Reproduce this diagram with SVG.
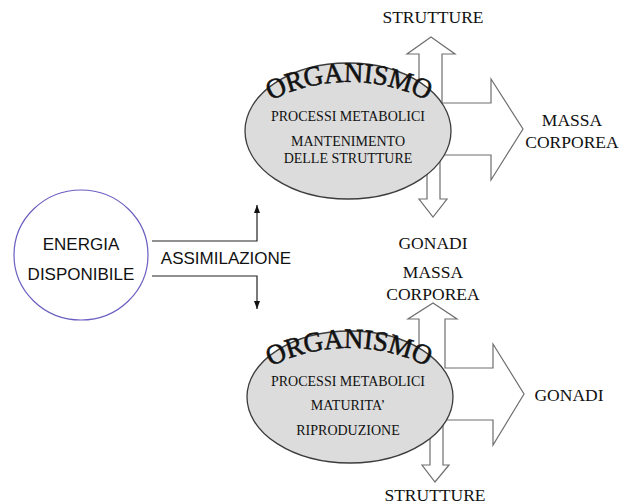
<svg xmlns="http://www.w3.org/2000/svg" width="620" height="504" viewBox="0 0 620 504">
<style>
  .bg{fill:#ffffff}
  .arrow{fill:#ffffff;stroke:#6e6e6e;stroke-width:1.2;stroke-linejoin:miter}
  .org{fill:#dcdcdc;stroke:#3c3c3c;stroke-width:1.3}
  .circ{fill:#ffffff;stroke:#6a5fc0;stroke-width:1.2}
  .conn{fill:none;stroke:#222;stroke-width:1.2}
  .serif{font-family:"Liberation Serif","Times New Roman",serif;fill:#111}
  .lbl{font-size:17.5px}
  .inner{font-size:14px}
  .big{font-size:28px;stroke:#111;stroke-width:0.6}
  .sans{font-family:"Liberation Sans",Arial,sans-serif;fill:#111;font-size:17px}
</style>
<defs>
  <marker id="ah" viewBox="0 0 8 6" refX="8" refY="3" markerWidth="8" markerHeight="6" markerUnits="userSpaceOnUse" orient="auto">
    <path d="M0 0 L8 3 L0 6 Z" fill="#111"/>
  </marker>
  <path id="arcTop" d="M 266 103 A 174 174 0 0 1 432 103"/>
  <path id="arcBot" d="M 266 369 A 174 174 0 0 1 432 369"/>
</defs>
<rect class="bg" x="0" y="0" width="620" height="504"/>

<g id="connectors">
  <path class="conn" d="M152 241 H257 V205" marker-end="url(#ah)"/>
  <path class="conn" d="M152 276 H257 V309" marker-end="url(#ah)"/>
</g>

<g id="energia">
  <ellipse class="circ" cx="81" cy="255" rx="67" ry="65"/>
  <text class="sans" x="81" y="250" text-anchor="middle">ENERGIA</text>
  <text class="sans" x="81" y="280" text-anchor="middle">DISPONIBILE</text>
</g>

<g id="assimilazione">
  <text class="sans" x="226" y="264" text-anchor="middle">ASSIMILAZIONE</text>
</g>

<g id="organismo-top">
  <polygon class="arrow" points="419,110 419,54 407,54 431,37 455,54 442,54 442,103 491,103 491,79 523,129 491,180 491,155 440,155 440,199 447,199 433,217 419,199 427,199 427,160"/>
  <ellipse class="org" cx="348" cy="131" rx="103" ry="68"/>
  <text class="serif big"><textPath href="#arcTop" startOffset="50%" text-anchor="middle" textLength="162" lengthAdjust="spacingAndGlyphs">ORGANISMO</textPath></text>
  <text class="serif inner" x="348" y="121" text-anchor="middle">PROCESSI METABOLICI</text>
  <text class="serif inner" x="348" y="146" text-anchor="middle">MANTENIMENTO</text>
  <text class="serif inner" x="348" y="163" text-anchor="middle">DELLE STRUTTURE</text>
</g>

<g id="top-labels">
  <text class="serif lbl" x="433" y="23" text-anchor="middle">STRUTTURE</text>
  <text class="serif lbl" x="572" y="126" text-anchor="middle">MASSA</text>
  <text class="serif lbl" x="572" y="148" text-anchor="middle">CORPOREA</text>
  <text class="serif lbl" x="433" y="249" text-anchor="middle">GONADI</text>
</g>

<g id="organismo-bottom">
  <polygon class="arrow" points="419,380 419,319 408,319 433,303 457,319 445,319 445,368 493,368 493,344 524,394 493,445 493,420 443,420 443,465 449,465 435,482 422,465 430,465 430,420"/>
  <ellipse class="org" cx="350" cy="397" rx="103" ry="66"/>
  <text class="serif big"><textPath href="#arcBot" startOffset="50%" text-anchor="middle" textLength="162" lengthAdjust="spacingAndGlyphs">ORGANISMO</textPath></text>
  <text class="serif inner" x="348" y="386" text-anchor="middle">PROCESSI METABOLICI</text>
  <text class="serif inner" x="348" y="410" text-anchor="middle">MATURITA’</text>
  <text class="serif inner" x="348" y="435" text-anchor="middle">RIPRODUZIONE</text>
</g>

<g id="bottom-labels">
  <text class="serif lbl" x="433" y="278" text-anchor="middle">MASSA</text>
  <text class="serif lbl" x="433" y="300" text-anchor="middle">CORPOREA</text>
  <text class="serif lbl" x="569" y="401" text-anchor="middle">GONADI</text>
  <text class="serif lbl" x="435" y="501" text-anchor="middle">STRUTTURE</text>
</g>
</svg>
